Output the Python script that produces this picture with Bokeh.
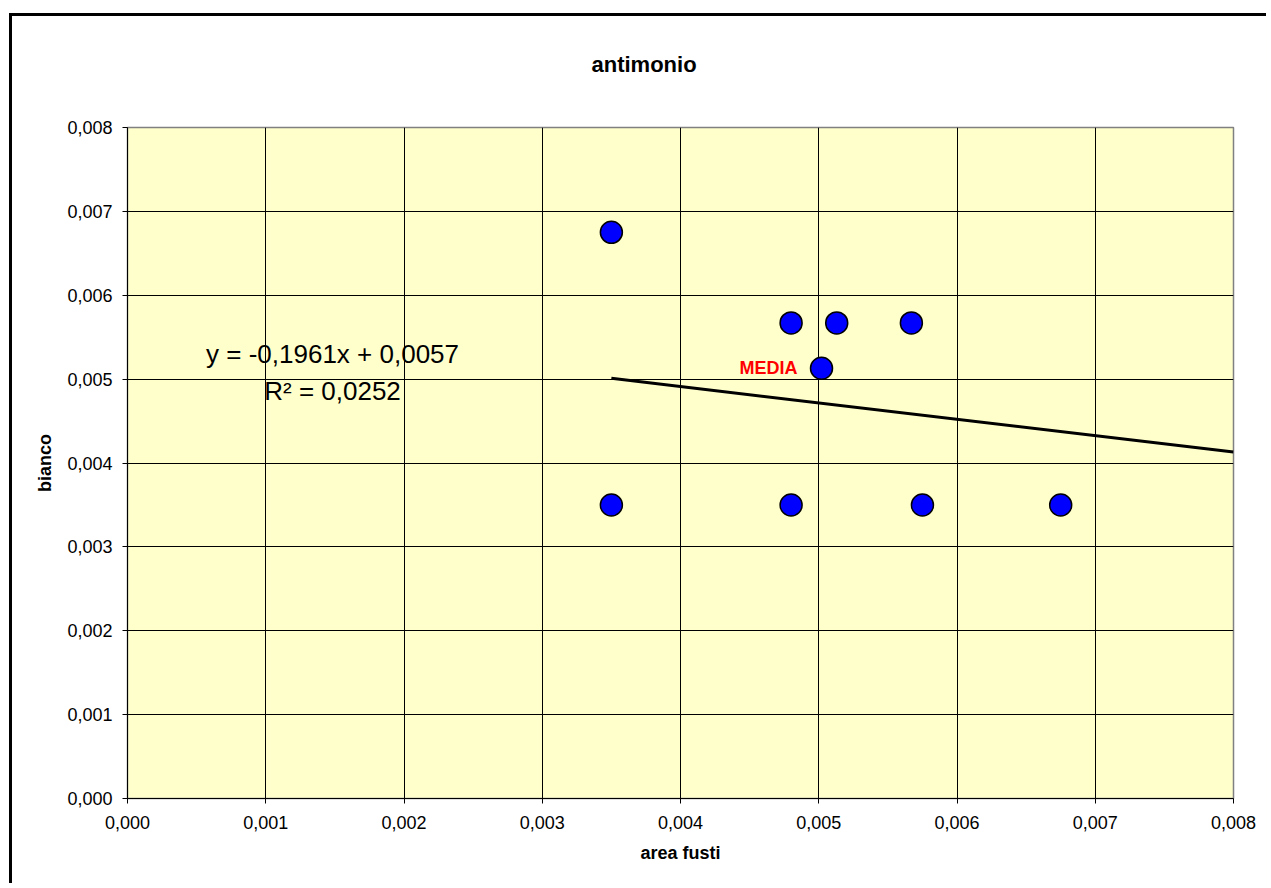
from bokeh.plotting import figure
from bokeh.models import Range1d, FixedTicker, CustomJSTickFormatter, Label, ColumnDataSource, Title
from bokeh.core.properties import value
from bokeh.embed import file_html
from bokeh.resources import INLINE

# ---- data ----
area_fusti = [0.0035, 0.0048, 0.00513, 0.00567, 0.0035, 0.0048, 0.00575, 0.00675]
bianco = [0.00675, 0.00567, 0.00567, 0.00567, 0.0035, 0.0035, 0.0035, 0.0035]
media_x = [0.00502]
media_y = [0.00513]
media_label = ["MEDIA"]
trend_x = [0.0035, 0.008]
trend_y = [0.00501, 0.00413]
x_ticks = [0.000, 0.001, 0.002, 0.003, 0.004, 0.005, 0.006, 0.007, 0.008]
y_ticks = [0.000, 0.001, 0.002, 0.003, 0.004, 0.005, 0.006, 0.007, 0.008]
title_text = "antimonio"
x_label = "area fusti"
y_label = "bianco"
eq_line1 = "y = -0,1961x + 0,0057"
eq_line2 = "R\u00b2 = 0,0252"

FONT = "Liberation Sans"

p = figure(width=1257, height=870, output_backend="svg", toolbar_location=None,
           x_range=Range1d(0, 0.008), y_range=Range1d(0, 0.008),
           min_border_left=115, min_border_right=36, min_border_top=111, min_border_bottom=88,
           background_fill_color="#FFFFCC", border_fill_color="white",
           outline_line_color="#808080", outline_line_width=1.5)
p.styles = {"margin-left": "9px", "margin-top": "13px",
            "border-left": "3px solid black", "border-top": "3px solid black"}

p.title = Title(text=title_text, align="left", offset=464, standoff=10, vertical_align="top",
                text_font=FONT, text_font_size="22px", text_font_style="bold", text_color="black")
# empty spacer between the title and the plot frame
p.add_layout(Title(text=" ", standoff=17, text_font=FONT, text_font_size="22px"), "above")

fmt = CustomJSTickFormatter(code="return tick.toFixed(3).replace('.', ',');")
for ax, ticks, lab in ((p.xaxis[0], x_ticks, x_label), (p.yaxis[0], y_ticks, y_label)):
    ax.ticker = FixedTicker(ticks=ticks)
    ax.formatter = fmt
    ax.minor_tick_line_color = None
    ax.major_tick_in = 0
    ax.major_tick_out = 5
    ax.major_tick_line_color = "black"
    ax.axis_line_color = "black"
    ax.major_label_text_font = FONT
    ax.major_label_text_font_size = "18px"
    ax.major_label_text_color = "black"
    ax.axis_label = lab
    ax.axis_label_text_font = FONT
    ax.axis_label_text_font_size = "18px"
    ax.axis_label_text_font_style = "bold"
    ax.axis_label_text_color = "black"
p.xaxis.major_label_standoff = 12
p.yaxis.major_label_standoff = 10
p.xaxis.axis_label_standoff = 11
p.yaxis.axis_label_standoff = 9

p.grid.grid_line_color = "black"
p.grid.grid_line_width = 1
p.grid.grid_line_alpha = 1.0

p.line(trend_x, trend_y, line_color="black", line_width=3)

p.scatter(area_fusti, bianco, size=22, marker="circle", fill_color="#0000FF",
          line_color="black", line_width=1.5)
src = ColumnDataSource(dict(x=media_x, y=media_y, t=media_label))
p.scatter("x", "y", source=src, size=22, marker="circle", fill_color="#0000FF",
          line_color="black", line_width=1.5)
p.text("x", "y", text="t", source=src, x_offset=-24, text_align="right", text_baseline="middle",
       text_color="#FF0000", text_font=value(FONT), text_font_size="18px", text_font_style="bold")

p.add_layout(Label(x=0.001483, y=0.005305, text=eq_line1, text_align="center", text_baseline="middle",
                   text_font=FONT, text_font_size="26px", text_color="black"))
p.add_layout(Label(x=0.001483, y=0.004864, text=eq_line2, text_align="center", text_baseline="middle",
                   text_font=FONT, text_font_size="26px", text_color="black"))

open("out.html", "w").write(file_html(p, INLINE))
